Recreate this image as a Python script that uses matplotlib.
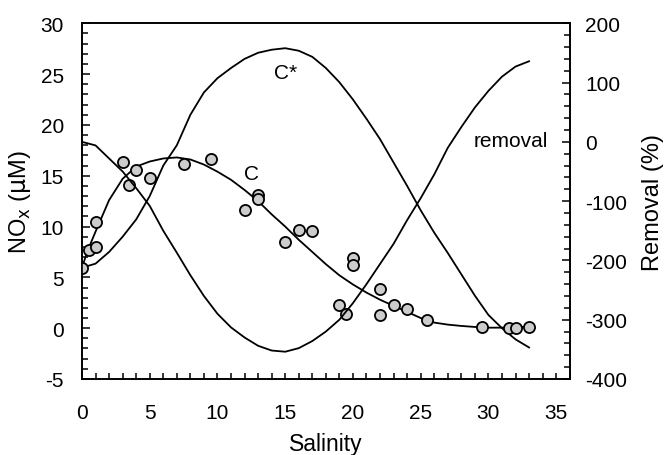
import numpy as np
import matplotlib
matplotlib.use("Agg")
from matplotlib import pyplot as plt
from matplotlib.ticker import MultipleLocator

plt.rcParams['font.family'] = ['Liberation Sans', 'DejaVu Sans']
plt.rcParams['axes.unicode_minus'] = False

# measured NOx vs salinity
sal = [0, 0.5, 1, 1, 3, 3.5, 4, 5, 7.5, 9.5, 12, 13, 13, 15, 16, 17,
       19, 19.5, 20, 20, 22, 22, 23, 24, 25.5, 29.5, 31.5, 32, 33]
nox = [5.9, 7.7, 8.0, 10.4, 16.4, 14.1, 15.6, 14.8, 16.2, 16.6, 11.6, 13.1, 12.7, 8.5, 9.7, 9.6,
       2.3, 1.4, 6.9, 6.2, 3.9, 1.3, 2.3, 1.9, 0.8, 0.1, 0.05, 0.05, 0.15]

# curves
sal_fit = [0, 0.5, 1, 2, 3, 4, 5, 6, 7, 8, 9, 10, 11, 12, 13, 14, 15, 16,
           17, 18, 19, 20, 21, 22, 23, 24, 25, 26, 27, 28, 29, 30, 31, 32, 33]
c_fit = [6.0, 7.9, 9.5, 12.6, 14.7, 15.9, 16.4, 16.7, 16.8, 16.6, 16.1, 15.4, 14.6, 13.6,
         12.5, 11.2, 10.0, 8.7, 7.5, 6.3, 5.2, 4.3, 3.5, 2.8, 2.2, 1.6, 1.0, 0.55, 0.35,
         0.22, 0.12, 0.05, 0.05, 0.1, 0.15]
c_star = [6.0, 6.15, 6.35, 7.5, 9.0, 10.7, 13.0, 16.0, 18.0, 21.0, 23.2, 24.6, 25.6, 26.5,
          27.1, 27.4, 27.55, 27.3, 26.7, 25.6, 24.2, 22.5, 20.6, 18.6, 16.3, 14.0, 11.6,
          9.4, 7.4, 5.3, 3.2, 1.3, 0.0, -1.1, -1.9]
removal = [0, -3, -6, -28, -50, -78, -108, -150, -187, -225, -260, -290, -313, -330,
           -344, -352, -354, -348, -336, -320, -300, -272, -240, -206, -172, -132, -95,
           -55, -10, 25, 58, 86, 110, 127, 136]

fig = plt.figure(figsize=(6.65, 4.56), dpi=100)
ax = fig.add_axes([0.1233, 0.1667, 0.7334, 0.78])
ax2 = ax.twinx()

ax.plot(sal_fit, c_fit, color='black', lw=1.3)
ax.plot(sal_fit, c_star, color='black', lw=1.3)
ax2.plot(sal_fit, removal, color='black', lw=1.3)
ax.plot(sal, nox, ls='none', marker='o', ms=8, mfc='#cccccc', mec='black', mew=1.3, zorder=5)

ax.set_xlim(0, 36)
ax.set_ylim(-5, 30)
ax2.set_ylim(-400, 200)

ax.xaxis.set_major_locator(MultipleLocator(5))
ax.xaxis.set_minor_locator(MultipleLocator(1))
ax.yaxis.set_major_locator(MultipleLocator(5))
ax.yaxis.set_minor_locator(MultipleLocator(1))
ax2.yaxis.set_major_locator(MultipleLocator(100))
ax2.yaxis.set_minor_locator(MultipleLocator(20))

ax.tick_params(axis='x', which='both', direction='in', length=4, width=1.1, pad=17, labelsize=15)
ax.tick_params(axis='y', which='major', direction='in', length=6, width=1.1, pad=13, labelsize=15)
ax.tick_params(axis='y', which='minor', direction='in', length=4, width=1.1)
ax2.tick_params(axis='y', which='major', direction='in', length=6, width=1.1, pad=11, labelsize=15)
ax2.tick_params(axis='y', which='minor', direction='in', length=4, width=1.1)

for a in (ax, ax2):
    for s in a.spines.values():
        s.set_linewidth(1.2)

ax.set_xlabel('Salinity', fontsize=16.5)
ax.set_ylabel(r'NO$_\mathrm{x}$ ($\mathrm{\mu}$M)', fontsize=17)
ax2.set_ylabel('Removal (%)', fontsize=17)
ax.xaxis.set_label_coords(0.5, -0.15)
ax.yaxis.set_label_coords(-0.1, 0.5)
ax2.yaxis.set_label_coords(1.148, 0.5)

ax.text(15.0, 25.2, 'C*', fontsize=15, ha='center', va='center')
ax.text(12.5, 15.2, 'C', fontsize=15, ha='center', va='center')
ax.text(34.4, 18.45, 'removal', fontsize=15, ha='right', va='center')

fig.savefig('out.png', dpi=100)
